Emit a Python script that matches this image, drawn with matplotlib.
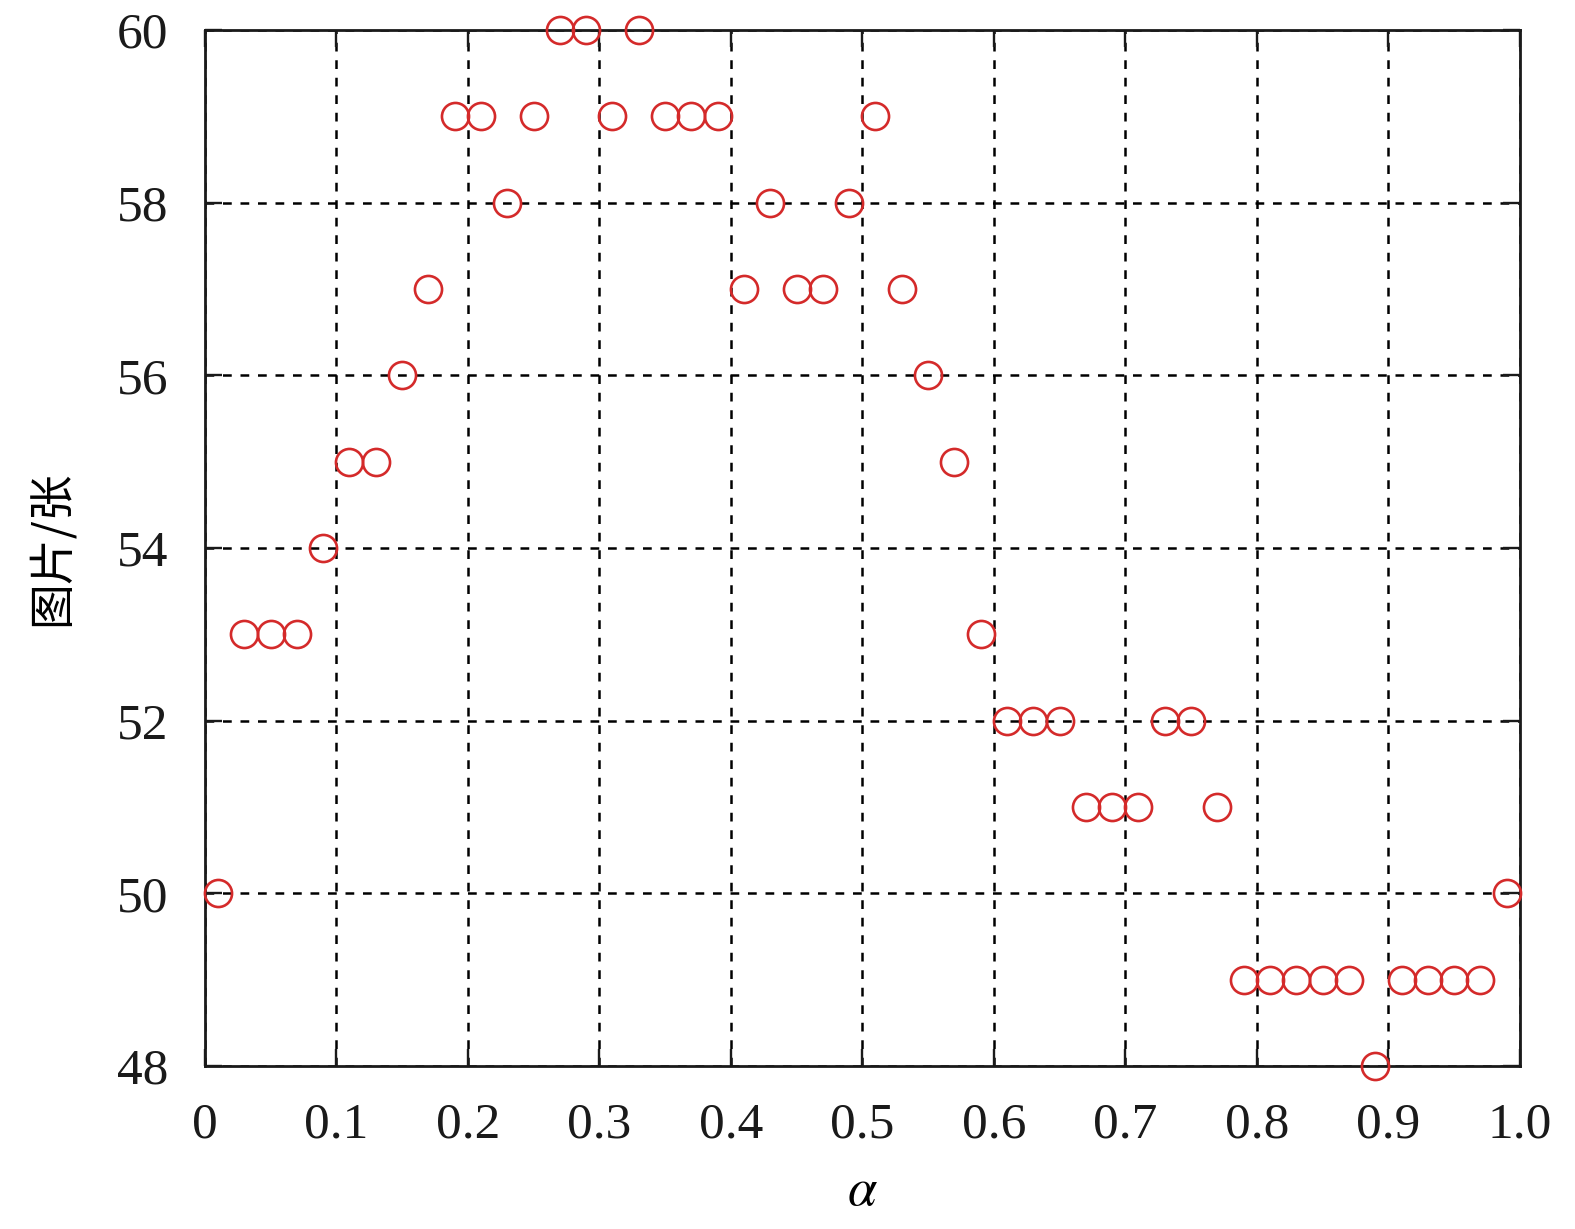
import numpy as np
import matplotlib.pyplot as plt

# 数据: alpha 与 图片张数
alpha = [0.01, 0.03, 0.05, 0.07, 0.09, 0.11, 0.13, 0.15, 0.17, 0.19,
         0.21, 0.23, 0.25, 0.27, 0.29, 0.31, 0.33, 0.35, 0.37, 0.39,
         0.41, 0.43, 0.45, 0.47, 0.49, 0.51, 0.53, 0.55, 0.57, 0.59,
         0.61, 0.63, 0.65, 0.67, 0.69, 0.71, 0.73, 0.75, 0.77, 0.79,
         0.81, 0.83, 0.85, 0.87, 0.89, 0.91, 0.93, 0.95, 0.97, 0.99]
counts = [50, 53, 53, 53, 54, 55, 55, 56, 57, 59,
          59, 58, 59, 60, 60, 59, 60, 59, 59, 59,
          57, 58, 57, 57, 58, 59, 57, 56, 55, 53,
          52, 52, 52, 51, 51, 51, 52, 52, 51, 49,
          49, 49, 49, 49, 48, 49, 49, 49, 49, 50]
xticks = [0, 0.1, 0.2, 0.3, 0.4, 0.5, 0.6, 0.7, 0.8, 0.9, 1.0]
xticklabels = ['0', '0.1', '0.2', '0.3', '0.4', '0.5', '0.6', '0.7', '0.8', '0.9', '1.0']
yticks = [48, 50, 52, 54, 56, 58, 60]

plt.rcParams['font.family'] = ['Liberation Serif', 'Noto Sans CJK SC']
plt.rcParams['mathtext.fontset'] = 'stix'

fig = plt.figure(figsize=(15.75, 12.29), dpi=100)
ax = fig.add_axes([0.130, 0.1326, 0.835, 0.843])

ax.plot(alpha, counts, 'o', markersize=19.5, markerfacecolor='none',
        markeredgecolor='#d42a2a', markeredgewidth=1.9, clip_on=False, zorder=3)

ax.set_xlim(0, 1.0)
ax.set_ylim(48, 60)
ax.set_xticks(xticks)
ax.set_xticklabels(xticklabels)
ax.set_yticks(yticks)
ax.grid(True, color='black', linestyle=(0, (3.5, 3.5)), linewidth=1.8)
ax.tick_params(direction='in', length=12, width=1.7, top=True, right=True,
               labelsize=37, pad=26, colors='#1a1a1a')
for s in ax.spines.values():
    s.set_linewidth(2.0)
    s.set_color('#1a1a1a')

ax.set_xlabel(r'$\alpha$', fontsize=38, labelpad=14)
ax.set_ylabel('图片/张', fontsize=33, labelpad=30,
              family=['Noto Sans CJK SC', 'DejaVu Sans'])

fig.savefig('out.png', dpi=100)
